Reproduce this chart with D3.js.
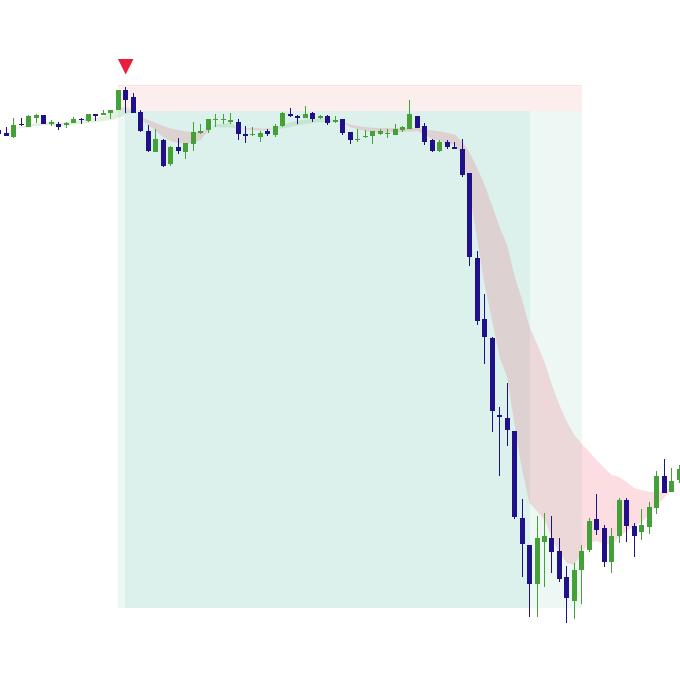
<!DOCTYPE html>
<html>
<head>
<meta charset="utf-8">
<script src="https://cdn.jsdelivr.net/npm/d3@7/dist/d3.min.js"></script>
<style>html,body{margin:0;padding:0;background:#fff}svg{display:block}</style>
</head>
<body>
<svg id="chart" width="680" height="677"></svg>
<script>
const opens = [570,567,563,576,573,582,585,576,576,575,577,581,579,586,585,587,590,610,603,588,569,548,560,536,553,548,556,567,570,580,580,578,578,566,565,563,569,565,574,586,584,582,587,582,584,578,581,568,560,563,564,566,566,565,570,571,584,574,560,549,558,553,551,527,442,381,362,285,282,269,182,155,116,158,162,149,123,99,130,150,181,172,138,164,200,174,168,173,192,224,208,220];
const highs = [570,573,582,582,585,586,585,580,578,578,583,582,586,586,590,590,610,613,607,590,575,571,561,554,562,557,578,576,581,586,586,587,581,574,573,569,571,576,588,592,585,594,588,585,585,584,581,568,571,570,569,571,571,576,574,600,584,577,561,560,560,558,561,527,449,406,363,293,317,269,201,155,184,187,184,162,134,137,155,182,206,175,172,202,202,177,191,198,229,241,232,235];
const lows = [566,564,562,574,573,577,576,574,570,572,577,576,578,579,585,581,590,587,587,568,548,548,533,534,546,541,549,566,567,573,576,576,560,557,564,558,564,563,573,583,576,582,578,581,575,577,565,556,558,562,556,565,562,565,568,571,572,555,548,548,551,551,523,434,375,336,268,224,254,181,123,83,83,113,127,118,77,81,96,148,165,133,127,157,158,143,160,166,186,207,208,217];
const closes = [566,564,575,574.5,584,585,576,578,573,577,581,580,586,584,587,590,610,600,587,569,549,561,534,553,549,557,568,569,581,581,581,580,566,564,566,567,566,574,587,584,582,586,581,584,577,580,567,560,561,564,569,569,567,571,573,586,572,558,549,558,553,551,525,443,379,363,289,283,270,183,156,116,162,164,148,121,102,130,149,179,170,138,164,200,174,164,175,193,224,207,219,231];

const fastLine = [569.5,570.3,571.5,573.5,575.5,577,578,578,577.5,578,579,580,581.5,582,584,588,592,593,590,581,575,569,563,559,557,556.5,557,560,569,575.5,576,577,573,570.5,570,569.5,570,571,575,577.5,579.5,580.5,581,581.5,581,580,578,573,571,569,568,567.5,567.5,568,568,568.5,569,565,561,559,557,555,545,507,460,415,379,343,323,275,230,197,189,180,162,147,137,135,147,157,159,156,155,163,169,173,178,185,195,202,210,219];
const slowLine = [570.5,570.7,571,572,573,574,574.5,574.5,574,574.5,575.3,576,577,578,579,580,582,586,588,583,580,577,574,571.5,570,568.5,568,568,571,573,572.5,572.5,572,571.5,572,571.5,571.5,571.2,571.5,573,574.5,576,577,578,578,578.5,578,575.5,574,573,572.3,572,572,572,572,572,572,570.5,569.5,568.5,567,565.5,558,547,532,515,494,473,455,424,400,373,356,338,315,295,278,265,256,248,240,232,225,223,218,212,210,208,208.5,209.5,212,218];

const signalIndex = 17;
const signalPrice = 632;
const stopPrice = 615;
const entryPrice = 589;
const targetPrice = 92;
const outerZone = [16, 78];
const innerZone = [17, 71];

const COLORS = {up:"#43a138", down:"#20108a", red:"#e91e3c", stop:"#e91414", teal:"#009a74"};

const x = d3.scaleLinear().domain([0, 91]).range([-1.175, 679.05]);
const y = d3.scaleLinear().domain([0, 700]).range([700, 0]);
const svg = d3.select("#chart");

function zone(g, xs, top, bottom, fill, opacity) {
  const x0 = Math.floor(x(xs[0])), x1 = Math.ceil(x(xs[1]));
  g.append("rect").attr("x", x0).attr("width", x1 - x0)
    .attr("y", Math.round(y(top))).attr("height", Math.round(y(bottom)) - Math.round(y(top)))
    .attr("fill", fill).attr("fill-opacity", opacity).attr("shape-rendering", "crispEdges");
}
const zones = svg.append("g");
zone(zones, outerZone, stopPrice, entryPrice, COLORS.stop, 0.07);
zone(zones, outerZone, entryPrice, targetPrice, COLORS.teal, 0.07);
zone(zones, innerZone, entryPrice, targetPrice, COLORS.teal, 0.07);
zones.append("line")
  .attr("x1", Math.floor(x(outerZone[0]))).attr("x2", Math.ceil(x(outerZone[1])))
  .attr("y1", y(stopPrice) + 0.5).attr("y2", y(stopPrice) + 0.5)
  .attr("stroke", COLORS.stop).attr("stroke-opacity", 0.06).attr("shape-rendering", "crispEdges");

// Ribbon between the two lines, split where they cross
const segments = [];
let cur = null;
fastLine.forEach((f, i) => {
  const s = slowLine[i], up = f >= s;
  if (!cur || cur.up !== up) {
    if (cur) {
      const pf = fastLine[i - 1], ps = slowLine[i - 1];
      const t = (ps - pf) / ((f - pf) - (s - ps));
      const v = pf + t * (f - pf);
      const cross = {i: i - 1 + t, f: v, s: v};
      cur.pts.push(cross);
      cur = {up, pts: [cross]};
    } else cur = {up, pts: []};
    segments.push(cur);
  }
  cur.pts.push({i, f, s});
});
const area = d3.area().x(d => x(d.i)).y0(d => y(d.f)).y1(d => y(d.s));
svg.append("g").selectAll("path").data(segments).join("path")
  .attr("d", d => area(d.pts))
  .attr("fill", d => d.up ? COLORS.up : COLORS.red)
  .attr("fill-opacity", 0.15);

// Candles
const candles = opens.map((o, i) => ({i, o, h: highs[i], l: lows[i], c: closes[i]}));
const cg = svg.append("g").attr("shape-rendering", "crispEdges");
const bodyW = 5;
const left = d => Math.floor(x(d.i)) - 2;
const col = d => d.c >= d.o ? COLORS.up : COLORS.down;
cg.selectAll("rect.wick").data(candles).join("rect").attr("class", "wick")
  .attr("x", d => left(d) + 2).attr("width", 1)
  .attr("y", d => Math.round(y(d.h)))
  .attr("height", d => Math.round(y(d.l)) - Math.round(y(d.h)))
  .attr("fill", col);
cg.selectAll("rect.body").data(candles).join("rect").attr("class", "body")
  .attr("x", left).attr("width", bodyW)
  .attr("y", d => Math.round(y(Math.max(d.o, d.c))))
  .attr("height", d => Math.max(1, Math.round(y(Math.min(d.o, d.c))) - Math.round(y(Math.max(d.o, d.c)))))
  .attr("fill", col);

// Signal marker
const sx = x(signalIndex) - 0.2, sy = y(signalPrice);
svg.append("path")
  .attr("d", d3.line()([[sx - 7.8, sy - 9], [sx + 7.8, sy - 9], [sx, sy + 6.5]]) + "Z")
  .attr("fill", COLORS.red);
</script>
</body>
</html>
